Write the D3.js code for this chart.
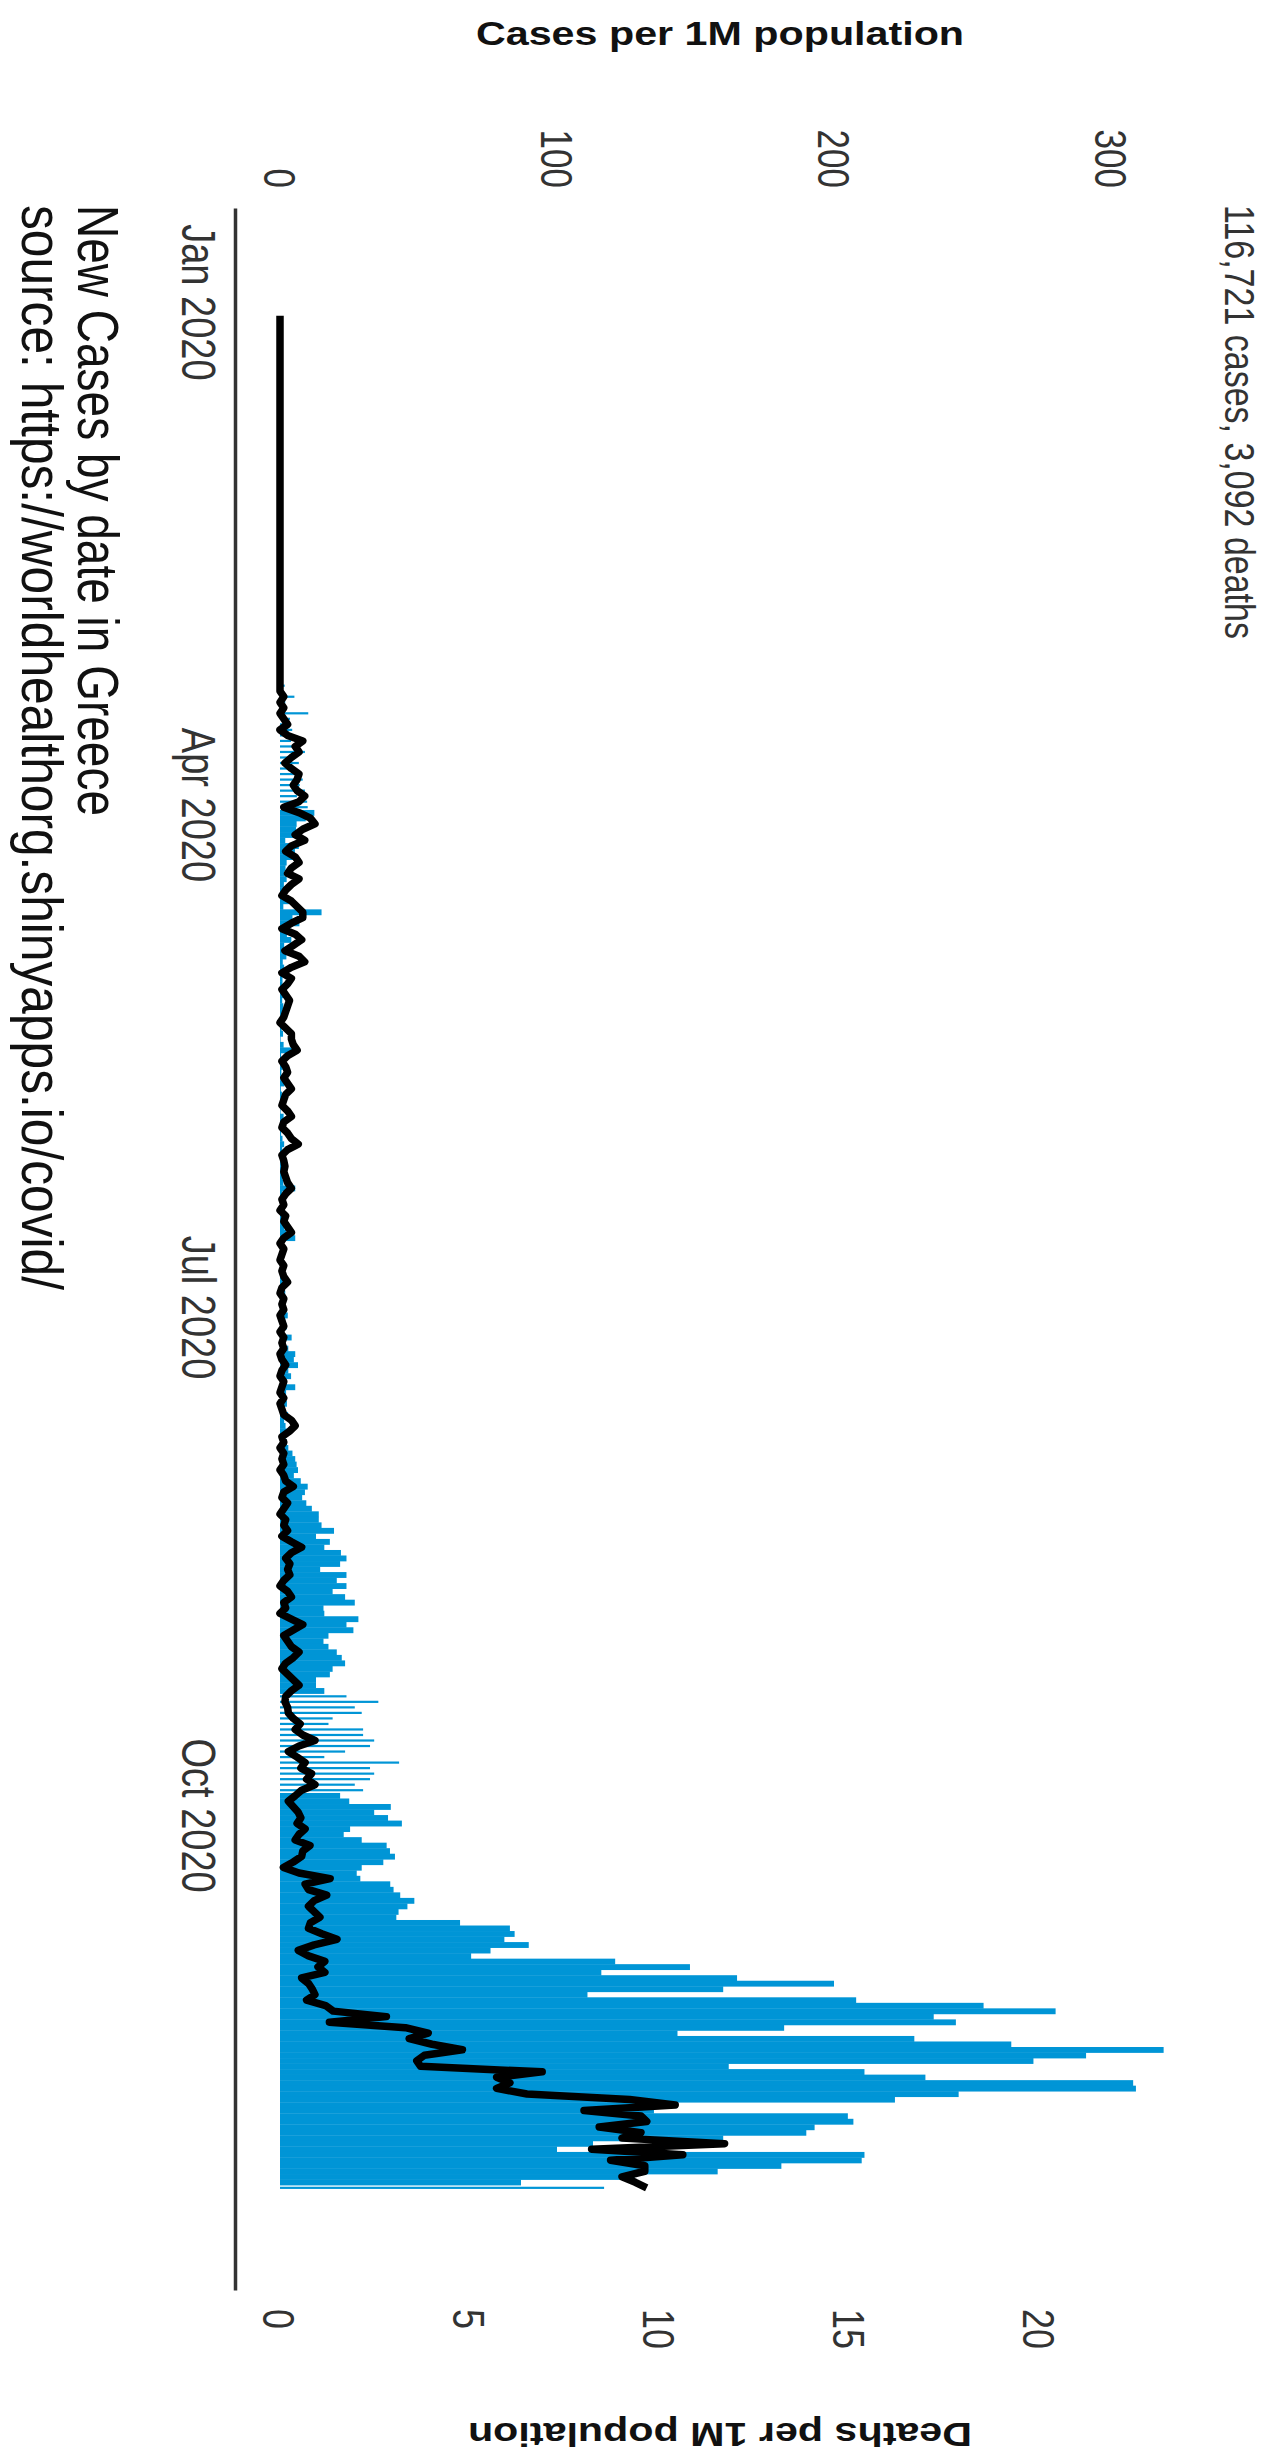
<!DOCTYPE html>
<html>
<head>
<meta charset="utf-8">
<script src="https://cdn.jsdelivr.net/npm/d3@7"></script>
<style>
  html, body { margin: 0; padding: 0; background: #ffffff; }
  svg { display: block; }
</style>
</head>
<body>
<svg id="chart" width="1283" height="2462"></svg>
<script>
// ---------------- data ----------------
const firstDay = "2020-01-03";

// New cases per 1M population, one value per day from 2020-01-03
const casesPerMillion = [
  // Jan 3-31
  0,0,0,0,0,0,0,0,0,0, 0,0,0,0,0,0,0,0,0,0, 0,0,0,0,0,0,0,0,0,
  // Feb
  0,0,0,0,0,0,0,0,0,0, 0,0,0,0,0,0,0,0,0,0, 0,0,0,0,0,0.1,0.1,0.1,0,
  // Mar
  0.2,0,0.2,0.1,0,0.3,0.9,1.0,0.5,1.7, 0.9,5.2,1.9,2.0,10.2,3.6,2.1,4.4,3.6,4.0, 6.0,9.0,4.6,6.8,5.0,7.5,8.2,7.1,9.0,6.1, 9.8,
  // Apr
  10.0,12.4,9.3,6.0,5.8,6.0,1.9,6.8,5.4,6.0, 2.4,2.0,1.6,2.4,1.4,2.4,1.9,3.2,1.2,15.0, 4.5,7.0,3.8,2.5,4.1,1.5,1.3,2.3,1.0,1.5,
  // May
  2.9,0.9,0.9,1.0,1.5,0.8,1.2,1.0,0.6,1.0, 0.6,1.1,0.2,1.3,4.5,0.4,0.2,1.0,0.5,0.3, 1.6,0.3,0.7,1.0,0.5,0.2,1.3,0.6,0.2,0.4, 0.9,
  // Jun
  1.5,0.8,0.5,1.4,1.0,1.5,0.9,1.2,5.5,0.8, 1.6,1.0,0.6,1.8,1.0,1.5,2.2,5.5,1.2,1.9, 1.5,0.8,2.0,1.5,1.0,1.3,0.7,1.9,1.0,1.4,
  // Jul
  2.2,2.8,1.9,2.5,1.4,4.2,2.0,3.0,5.5,5.0, 6.5,3.0,4.0,2.5,5.5,2.2,1.8,2.5,1.4,2.9, 1.5,2.0,2.6,2.1,2.5,3.0,4.5,5.5,6.0,6.5, 5.0,
  // Aug
  7.5,10.0,9.0,8.0,9.5,11.5,14.0,14.0,15.0,19.5, 13.0,18.0,16.0,22.0,24.0,21.7,14.5,24.0,20.5,24.0, 19.0,23.5,27.0,15.7,16.0,28.3,24.0,26.5,17.5,15.7, 17.5,
  // Sep
  20.5,22.3,23.5,19.0,18.0,13.0,13.0,16.0,24.0,35.5, 27.0,29.5,19.0,17.5,30.0,30.0,34.0,32.5,23.5,16.0, 43.0,32.5,34.0,32.5,27.0,30.0,21.7,25.0,40.0,34.0,
  // Oct
  39.0,44.0,25.3,23.0,29.5,38.5,39.7,41.5,37.3,29.5, 27.7,29.0,39.8,41.0,43.4,48.5,46.0,42.8,42.0,65.0, 83.0,84.7,81.0,89.8,76.0,69.0,121.0,148.0,116.0,165.0, 200.0,
  // Nov
  160,111,208,254,280,236,244,182,143.5,229, 264,319,291,272,162,211,233,308,309,245, 222,143.5,135,205,207,193,190,160,113,100,
  // Dec 1-7
  211,210,181,158,128,87,117
];

// New deaths per 1M population, same days
const deathsPerMillion = [
  // Jan 3-31
  0,0,0,0,0,0,0,0,0,0, 0,0,0,0,0,0,0,0,0,0, 0,0,0,0,0,0,0,0,0,
  // Feb
  0,0,0,0,0,0,0,0,0,0, 0,0,0,0,0,0,0,0,0,0, 0,0,0,0,0,0,0,0,0,
  // Mar
  0,0,0,0,0,0,0,0,0,0, 0,0.1,0,0.1,0,0.1,0.2,0,0.2,0.6, 0.4,0.5,0.3,0.13,0.3,0.5,0.45,0.35,0.45,0.65, 0.5,
  // Apr
  0.1,0.5,0.8,0.92,0.6,0.4,0.65,0.3,0.15,0.4, 0.5,0.3,0.2,0.5,0.3,0.15,0.05,0.3,0.45,0.6, 0.6,0.3,0.05,0.4,0.57,0.35,0.13,0.5,0.65,0.3,
  // May
  0.05,0.3,0.2,0.05,0.15,0.25,0.2,0.15,0.1,0, 0.15,0.3,0.3,0.35,0.45,0.2,0.05,0.15,0.2,0.1, 0.2,0.3,0.15,0.1,0.05,0.2,0.3,0.1,0.05,0.2, 0.3,
  // Jun
  0.48,0.2,0.05,0.1,0.13,0.1,0.15,0.2,0.3,0.15, 0.05,0.1,0,0.15,0.1,0.2,0.3,0.1,0,0.1, 0.05,0,0.1,0.05,0.1,0.2,0.05,0,0.1,0.05,
  // Jul
  0.1,0,0.05,0.1,0,0.1,0.05,0.1,0,0.05, 0.15,0.05,0,0.1,0.05,0,0.1,0,0.05,0.1, 0.3,0.4,0.25,0.05,0.1,0,0.1,0.05,0.1,0, 0.1,
  // Aug
  0.15,0.35,0.1,0.05,0.2,0.1,0,0.15,0.1,0.2, 0.05,0.3,0.57,0.3,0.15,0.26,0.2,0.26,0.1,0, 0.2,0.3,0.1,0.15,0,0.3,0.6,0.35,0.1,0.2, 0.3,
  // Sep
  0.5,0.35,0.15,0.05,0.2,0.35,0.5,0.3,0.15,0.13, 0.2,0.22,0.35,0.53,0.4,0.6,0.92,0.5,0.22,0.45, 0.66,0.55,0.83,0.7,0.92,0.57,0.4,0.22,0.35,0.48,
  // Oct
  0.55,0.45,0.66,0.5,0.4,0.79,0.6,0.57,0.35,0.09, 0.5,1.32,0.66,0.75,1.23,0.9,0.75,0.9,1.05,0.8, 0.75,1.1,1.5,0.9,0.48,0.75,1.18,1.0,1.18,0.57, 0.75,
  // Nov
  0.85,0.92,0.7,1.2,1.4,2.8,1.3,3.3,3.9,3.4, 4.0,4.8,3.8,3.6,3.7,6.9,5.7,6.05,5.7,6.5, 9.2,10.4,8.0,9.5,9.65,8.4,9.5,9.0,11.7,8.2,
  // Dec 1-7
  10.6,8.7,9.6,9.6,9.0,9.35,9.65
];

const dateTickValues = ["2020-01-01", "2020-04-01", "2020-07-01", "2020-10-01"];
const caseTickValues = [0, 100, 200, 300];
const deathTickValues = [0, 5, 10, 15, 20];

const chartTitle = "116,721 cases, 3,092 deaths";
const casesAxisTitle = "Cases per 1M population";
const deathsAxisTitle = "Deaths per 1M population";
const captionLines = ["New Cases by date in Greece",
                      "source: https://worldhealthorg.shinyapps.io/covid/"];

// ---------------- style ----------------
// periods where the source rendering shows the daily bars as thin strokes
const thinBarPeriods = [["2020-03-05", "2020-04-01"], ["2020-09-09", "2020-09-26"], ["2020-12-07", "2020-12-07"]];
const barColor = "#0095d6";
const FONT = "'Liberation Sans', Arial, Helvetica, sans-serif";
const STRETCH = 1.25;   // source picture is stretched across the value axis
const captionLengths = [611, 1085];

// ---------------- build ----------------
const parse = d3.timeParse("%Y-%m-%d");
const start = parse(firstDay);
const rows = casesPerMillion.map((c, i) => ({
  date: d3.timeDay.offset(start, i),
  cases: c,
  deaths: deathsPerMillion[i]
}));
const thin = thinBarPeriods.map(p => [parse(p[0]), parse(p[1])]);
const isThin = d => thin.some(p => d >= p[0] && d <= p[1]);

const W = 1283, H = 2462;
const svg = d3.select("#chart");
svg.append("rect").attr("width", W).attr("height", H).attr("fill", "#fff");

// The chart is drawn in its own landscape frame and turned a quarter turn clockwise.
const g = svg.append("g").attr("transform", `translate(${W},0) rotate(90)`);

const x = d3.scaleTime()
  .domain([new Date(2019, 11, 15), new Date(2020, 11, 26)])
  .range([208, 2290]);
const yCases = d3.scaleLinear().domain([0, 300]).range([1003, 172]);
const yDeaths = d3.scaleLinear().domain([0, 20]).range([1003, 243]);

// bars
g.append("g").selectAll("rect")
  .data(rows.filter(r => r.cases > 0))
  .join("rect")
  .attr("fill", barColor)
  .attr("x", r => {
    const x0 = x(r.date), x1 = x(d3.timeDay.offset(r.date, 1));
    return isThin(r.date) ? (x0 + x1) / 2 - 1.1 : x0;
  })
  .attr("width", r => {
    const x0 = x(r.date), x1 = x(d3.timeDay.offset(r.date, 1));
    return isThin(r.date) ? 2.2 : (x1 - x0) + 0.35;
  })
  .attr("y", r => yCases(r.cases))
  .attr("height", r => yCases(0) - yCases(r.cases));

// deaths line
const line = d3.line()
  .x(r => x(d3.timeHour.offset(r.date, 12)))
  .y(r => yDeaths(r.deaths));
g.append("path")
  .datum(rows)
  .attr("fill", "none")
  .attr("stroke", "#000")
  .attr("stroke-width", 7.5)
  .attr("stroke-linejoin", "round")
  .attr("d", line);

// date axis
const fmt = d3.timeFormat("%b %Y");
const xAxis = g.append("g")
  .attr("transform", "translate(0,1047)")
  .call(d3.axisBottom(x).tickValues(dateTickValues.map(parse)).tickSize(0).tickFormat(fmt));
xAxis.select(".domain").attr("stroke", "#333").attr("stroke-width", 3.5);
xAxis.selectAll("text")
  .attr("y", null).attr("dy", null)
  .attr("transform", `translate(0,54) scale(1,${STRETCH})`)
  .attr("font-family", FONT).attr("font-size", 38).attr("fill", "#333")
  .attr("text-anchor", "middle");

// cases axis (left in the landscape frame)
const yAxisL = g.append("g")
  .attr("transform", "translate(188,0)")
  .call(d3.axisLeft(yCases).tickValues(caseTickValues).tickSize(0).tickPadding(0));
yAxisL.select(".domain").remove();
yAxisL.selectAll("text")
  .attr("x", 0).attr("dy", "0.36em")
  .attr("transform", `scale(1,${STRETCH})`)
  .attr("font-family", FONT).attr("font-size", 35).attr("fill", "#333")
  .attr("text-anchor", "end");
yAxisL.selectAll(".tick").attr("transform", d => `translate(0,${yCases(d)})`);

// deaths axis (right in the landscape frame)
const yAxisR = g.append("g")
  .attr("transform", "translate(2309,0)")
  .call(d3.axisRight(yDeaths).tickValues(deathTickValues).tickSize(0).tickPadding(0));
yAxisR.select(".domain").remove();
yAxisR.selectAll("text")
  .attr("x", 0).attr("dy", "0.36em")
  .attr("transform", `scale(1,${STRETCH})`)
  .attr("font-family", FONT).attr("font-size", 36).attr("fill", "#333")
  .attr("text-anchor", "start");

// axis titles
g.append("text")
  .attr("transform", `translate(45,563) scale(1,${STRETCH}) rotate(-90)`)
  .attr("text-anchor", "middle")
  .attr("font-family", FONT).attr("font-weight", "bold").attr("font-size", 33).attr("fill", "#111")
  .text(casesAxisTitle);
g.append("text")
  .attr("transform", `translate(2423,563) scale(1,${STRETCH}) rotate(90)`)
  .attr("text-anchor", "middle")
  .attr("font-family", FONT).attr("font-weight", "bold").attr("font-size", 33).attr("fill", "#111")
  .text(deathsAxisTitle);

// main title
g.append("text")
  .attr("transform", `translate(205,58) scale(1,${STRETCH})`)
  .attr("font-family", FONT).attr("font-size", 34).attr("fill", "#333")
  .text(chartTitle);

// caption
g.selectAll("text.caption")
  .data(captionLines)
  .join("text")
  .attr("class", "caption")
  .attr("transform", (d, i) => `translate(205,${1205 + i * 56}) scale(1,${STRETCH})`)
  .attr("font-family", FONT).attr("font-size", 46).attr("fill", "#111")
  .attr("textLength", (d, i) => captionLengths[i])
  .attr("lengthAdjust", "spacingAndGlyphs")
  .text(d => d);
</script>
</body>
</html>
